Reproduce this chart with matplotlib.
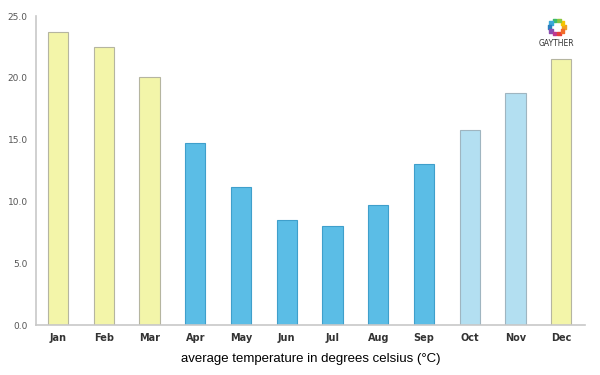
import matplotlib.pyplot as plt
import numpy as np

months = ["Jan", "Feb", "Mar", "Apr", "May", "Jun",
          "Jul", "Aug", "Sep", "Oct", "Nov", "Dec"]
temps = [23.7, 22.5, 20.1, 14.7, 11.2, 8.5, 8.0, 9.7, 13.0, 15.8, 18.8, 21.5]
seasons = ["warm", "warm", "warm", "cold", "cold", "cold",
           "cold", "cold", "cold", "mild", "mild", "warm"]
yticks = [0.0, 5.0, 10.0, 15.0, 20.0, 25.0]

fill = {"warm": "#f3f5a9", "cold": "#5bbde6", "mild": "#b3dff1"}
edge = {"warm": "#b5b5a0", "cold": "#3f9fcb", "mild": "#9fb5c0"}

fig = plt.figure(figsize=(6, 3.75), dpi=100)
ax = fig.add_axes([0.06, 0.133, 0.915, 0.824])

x = np.arange(len(months))
ax.bar(x, temps, width=0.44,
       color=[fill[s] for s in seasons],
       edgecolor=[edge[s] for s in seasons], linewidth=0.8, zorder=2)

ax.set_xlim(-0.48, 11.52)
ax.set_ylim(0, 25)
ax.set_yticks(yticks)
ax.set_yticklabels([f"{v:.1f}" for v in yticks], fontsize=6.5, color="#555555")
ax.set_xticks(x)
ax.set_xticklabels(months, fontsize=7, color="#333333", fontweight="bold")
ax.tick_params(length=0, pad=6)

for s in ["top", "right"]:
    ax.spines[s].set_visible(False)
for s in ["left", "bottom"]:
    ax.spines[s].set_color("#c8c8c8")
    ax.spines[s].set_linewidth(1.2)

ax.set_xlabel("average temperature in degrees celsius (°C)",
              fontsize=9.5, family="Liberation Sans", labelpad=7)

# small logo in the top right corner
logo = fig.add_axes([0.89, 0.898, 0.076, 0.06])
ang = np.linspace(0, 2 * np.pi, 10, endpoint=False)
cols = ["#f0a020", "#f5c400", "#8cc63f", "#3dbb6a", "#3aa8d8", "#2a7fc0",
        "#8a4fb0", "#c0398f", "#e8403a", "#f26c2a"]
logo.scatter(np.cos(ang), np.sin(ang), s=6, c=cols, marker="s")
logo.set_xlim(-2.4, 2.4)
logo.set_ylim(-1.6, 1.6)
logo.set_aspect("equal")
logo.axis("off")
fig.text(0.928, 0.885, "GAYTHER", fontsize=5.5, ha="center", va="center",
         color="#333333")

fig.savefig("out.png", dpi=100)
